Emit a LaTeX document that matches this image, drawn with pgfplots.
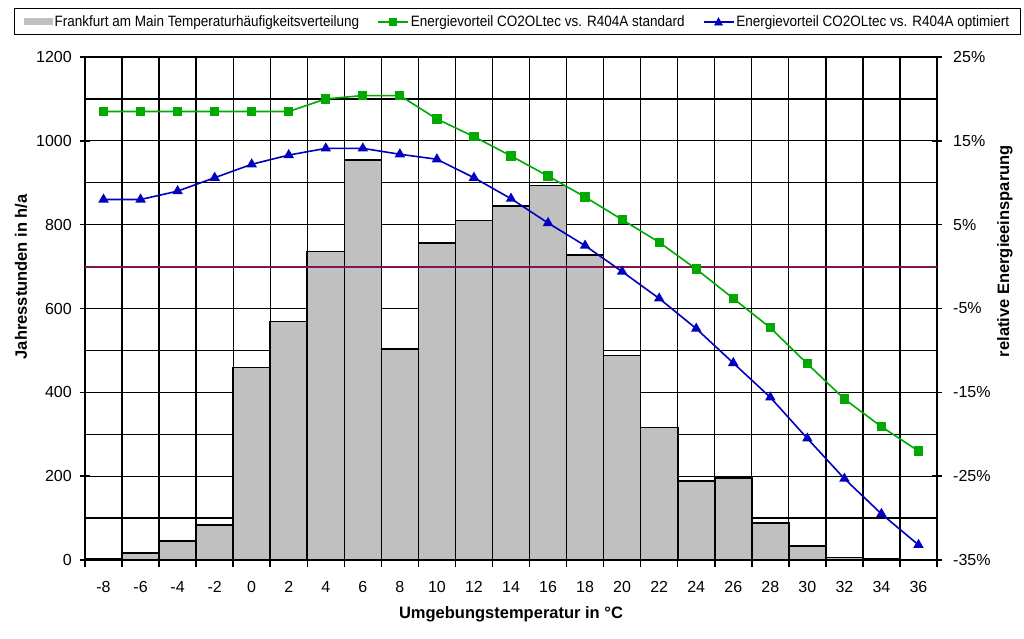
\documentclass[border=0pt]{standalone}
\usepackage{fontspec}
\setmainfont{Liberation Sans}
\newfontfamily\legfont{Liberation Sans}[FakeStretch=0.9]
\usepackage{pgfplots}
\usepackage{pgfplotstable}
\pgfplotsset{compat=1.18}
\definecolor{bargray}{RGB}{192,192,192}
\definecolor{lgreen}{RGB}{0,170,0}
\definecolor{lblue}{RGB}{0,0,190}
\definecolor{zeroline}{RGB}{130,20,80}

\pgfplotstableread{
t h
-8 3
-6 16
-4 46
-2 84
0 459
2 569
4 736
6 954
8 503
10 756
12 810
14 845
16 893
18 728
20 488
22 316
24 189
26 195
28 88
30 33
32 6
34 2
}\bars

\pgfplotstableread{
t v
-8 18.5
-6 18.5
-4 18.5
-2 18.5
0 18.5
2 18.5
4 20.0
6 20.4
8 20.4
10 17.6
12 15.5
14 13.2
16 10.8
18 8.3
20 5.6
22 2.9
24 -0.3
26 -3.8
28 -7.3
30 -11.6
32 -15.8
34 -19.1
36 -22.0
}\standard

\pgfplotstableread{
t v
-8 8.0
-6 8.0
-4 9.0
-2 10.6
0 12.2
2 13.3
4 14.1
6 14.1
8 13.4
10 12.8
12 10.6
14 8.1
16 5.2
18 2.5
20 -0.6
22 -3.8
24 -7.4
26 -11.5
28 -15.6
30 -20.5
32 -25.3
34 -29.5
36 -33.2
}\optimiert

\begin{document}
\begin{tikzpicture}[x=1pt,y=1pt]
\path[use as bounding box] (0,0) rectangle (1024,638);
\begin{axis}[
  at={(85pt,78pt)}, anchor=south west,
  width=852pt, height=503pt, scale only axis,
  xmin=-9, xmax=37, ymin=0, ymax=1200,
  axis x line*=bottom, axis y line*=left,
  axis line style={line width=2pt, black},
  xtick={-8,-6,...,36},
  xticklabels={-8,-6,-4,-2,0,2,4,6,8,10,12,14,16,18,20,22,24,26,28,30,32,34,36},
  major x tick style={draw=none},
  minor xtick={-9,-7,...,37},
  xminorgrids=true,
  minor x tick style={line width=1.5pt, black},
  ytick={0,200,...,1200},
  yticklabels={0,200,400,600,800,1000,1200},
  minor ytick={100,300,...,1100},
  minor y tick style={draw=none},
  ymajorgrids=true, yminorgrids=true,
  major y tick style={line width=1.5pt, black},
  xtick align=outside, ytick align=center,
  major tick length=10pt, minor tick length=7pt,
  grid style={black, line width=1.3pt},
  minor grid style={black, line width=1.3pt},
  tick label style={font=\fontsize{16}{19}\selectfont},
  xticklabel style={anchor=north, inner sep=0pt, yshift=-11pt},
  yticklabel style={anchor=east, inner sep=0pt, xshift=-8pt},
  xlabel={Umgebungstemperatur in °C},
  ylabel={Jahresstunden in h/a},
  every axis x label/.style={at={(axis description cs:0.5,0)}, anchor=center, yshift=-54pt, font=\fontsize{16.5}{20}\selectfont\bfseries},
  every axis y label/.style={at={(axis description cs:-0.0751,0.563)}, rotate=90, anchor=center, font=\fontsize{16.5}{20}\selectfont\bfseries},
]
\addplot[ybar, bar width=2, fill=bargray, draw=black, line width=1.6pt] table[x=t,y=h] {\bars};
\end{axis}
\begin{axis}[
  at={(85pt,78pt)}, anchor=south west,
  width=852pt, height=503pt, scale only axis,
  xmin=-9, xmax=37, ymin=-35, ymax=25,
  axis x line=none, axis y line*=right,
  axis line style={line width=2pt, black},
  ytick={-35,-25,...,25},
  yticklabels={-35\%,-25\%,-15\%,-5\%,5\%,15\%,25\%},
  ytick align=center, major tick length=10pt,
  major y tick style={line width=1.5pt, black},
  tick label style={font=\fontsize{16}{19}\selectfont},
  yticklabel style={anchor=west, inner sep=0pt, xshift=11pt},
  ylabel={relative Energieeinsparung},
  ylabel style={at={(axis description cs:1.0798,0.614)}, rotate=0, anchor=center, font=\fontsize{16.5}{20}\selectfont\bfseries},
  legend columns=3,
  legend cell align=left,
  legend style={at={(axis description cs:-0.0833,1.0974)}, anchor=north west, draw=black, line width=1pt,
    inner xsep=9pt, inner ysep=5pt,
    font=\legfont\fontsize{15}{18}\selectfont,
    /tikz/every even column/.append style={column sep=16pt}},
]
\addlegendimage{legend image code/.code={\fill[bargray] (0pt,-3pt) rectangle (28pt,3pt);}}
\addlegendentry{Frankfurt am Main Temperaturhäufigkeitsverteilung}
\addplot[zeroline, line width=2pt, forget plot] coordinates {(-9,0) (37,0)};
\addplot[lgreen, line width=1.6pt, mark=square*, mark size=3.8pt, mark options={fill=lgreen, draw=lgreen, solid},
  legend image code/.code={\draw[draw=lgreen, line width=1.8pt] (0pt,0pt) -- (30pt,0pt);
    \draw[draw=lgreen, fill=lgreen, line width=0.5pt] (11.5pt,-3.5pt) rectangle (18.5pt,3.5pt);}]
  table[x=t,y=v] {\standard};
\addlegendentry{Energievorteil CO2OLtec vs. R404A standard}
\addplot[lblue, line width=1.6pt, mark=triangle*, mark size=4.5pt, mark options={fill=lblue, draw=lblue, solid},
  legend image code/.code={\draw[draw=lblue, line width=1.8pt] (0pt,0pt) -- (30pt,0pt);
    \draw[draw=lblue, fill=lblue, line width=0.5pt] (11pt,-3.5pt) -- (19pt,-3.5pt) -- (15pt,4pt) -- cycle;}]
  table[x=t,y=v] {\optimiert};
\addlegendentry{Energievorteil CO2OLtec vs. R404A optimiert}
\end{axis}
\end{tikzpicture}
\end{document}
